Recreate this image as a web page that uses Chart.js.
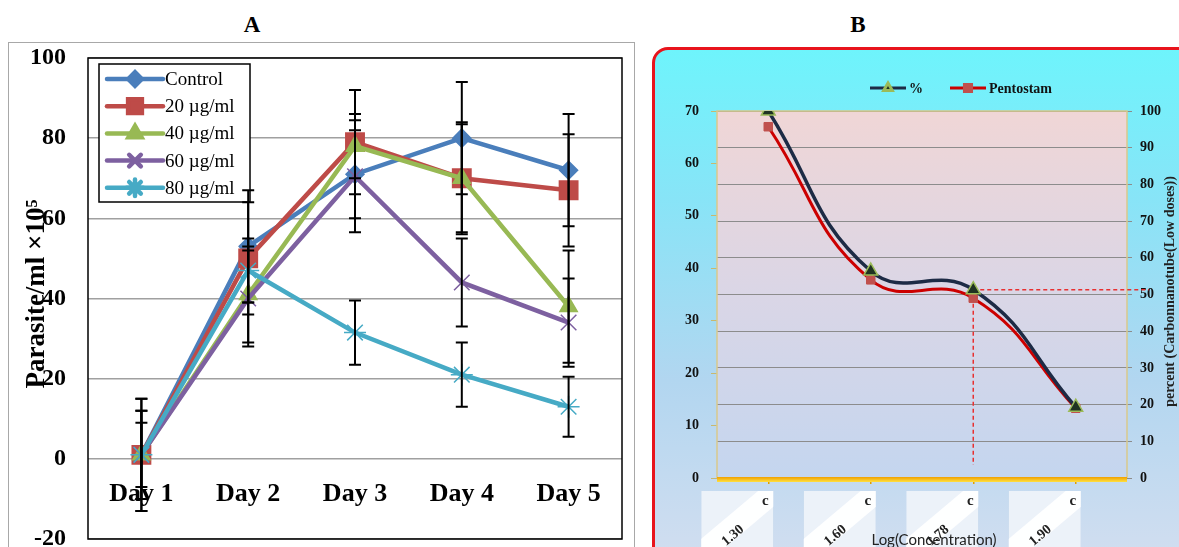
<!DOCTYPE html>
<html>
<head>
<meta charset="utf-8">
<script src="https://cdn.jsdelivr.net/npm/chart.js@4.4.1/dist/chart.umd.min.js"></script>
<style>
  body { margin: 0; width: 1179px; height: 547px; overflow: hidden; background: #fff; position: relative; }
  .ttl { position: absolute; top: 12px; width: 40px; text-align: center; font: bold 23px "Liberation Serif", serif; }
  #boxA { position: absolute; left: 8px; top: 42px; width: 627px; height: 540px; border: 1.5px solid #a8a8a8; box-sizing: border-box; }
  #wrapA { position: absolute; left: 0; top: 0; width: 645px; height: 560px; }
  #boxB { position: absolute; left: 652px; top: 47px; width: 560px; height: 540px; border: 3px solid #e8141c; border-radius: 16px;
          background: linear-gradient(180deg, #6ef4fc 0%, #88e4f7 28%, #b2d6f0 62%, #d6dff0 100%); box-sizing: border-box; }
  #wrapB { position: absolute; left: 652px; top: 47px; width: 527px; height: 500px; }
</style>
</head>
<body>
<div class="ttl" style="left:232px">A</div>
<div class="ttl" style="left:838px">B</div>
<div id="boxA"></div>
<div id="wrapA"><canvas id="chartA"></canvas></div>
<div id="boxB"></div>
<div id="wrapB"><canvas id="chartB"></canvas></div>

<script>
// ---- panel A data ----
const days = ['Day 1', 'Day 2', 'Day 3', 'Day 4', 'Day 5'];
const control = [1, 53, 71, 80, 72];
const ug20 = [1, 50, 79, 70, 67];
const ug40 = [1, 41, 78, 70, 38];
const ug60 = [1, 40, 70.5, 44, 34];
const ug80 = [1, 47, 31.5, 21, 13];
const errControl = [14, 14, 11, 14, 14];
const err20 = [11, 14, 13, 14, 14];
const err40 = [8, 12, 8, 13.5, 14];
const err60 = [11, 12, 14, 11, 11];
const err80 = [14, 8, 8, 8, 7.5];
const yTicksA = [-20, 0, 20, 40, 60, 80, 100];

// ---- panel B data ----
const logConc = ['1.30', '1.60', '1.78', '1.90'];
const percent = [100, 56.4, 51.3, 19.3];
const pentostam = [67, 37.8, 34.3, 13.3];
const leftTicksB = [0, 10, 20, 30, 40, 50, 60, 70];
const rightTicksB = [0, 10, 20, 30, 40, 50, 60, 70, 80, 90, 100];

const serif = '"Liberation Serif", "Times New Roman", serif';

function marker(ctx, style, r, x, y) {
    if (Chart.helpers && Chart.helpers.drawPoint) {
        Chart.helpers.drawPoint(ctx, { pointStyle: style, radius: r, rotation: 0, borderWidth: 1.5 }, x, y);
    } else {
        ctx.beginPath(); ctx.arc(x, y, r * 0.7, 0, Math.PI * 2); ctx.fill(); ctx.stroke();
    }
}

// error bars (drawn from the errors arrays)
const errorBars = {
    id: 'errorBars',
    afterDatasetsDraw(chart) {
        const ctx = chart.ctx, ys = chart.scales.y;
        ctx.save();
        ctx.strokeStyle = '#000';
        ctx.lineWidth = 2;
        chart.data.datasets.forEach((ds, i) => {
            chart.getDatasetMeta(i).data.forEach((pt, j) => {
                const t = ys.getPixelForValue(ds.data[j] + ds.errors[j]);
                const b = ys.getPixelForValue(ds.data[j] - ds.errors[j]);
                ctx.beginPath();
                ctx.moveTo(pt.x, t); ctx.lineTo(pt.x, b);
                ctx.moveTo(pt.x - 6, t); ctx.lineTo(pt.x + 6, t);
                ctx.moveTo(pt.x - 6, b); ctx.lineTo(pt.x + 6, b);
                ctx.stroke();
            });
        });
        ctx.restore();
    }
};

const frameA = {
    id: 'frameA',
    beforeDatasetsDraw(chart) {
        const { ctx, chartArea: a } = chart;
        ctx.save();
        ctx.strokeStyle = '#000';
        ctx.lineWidth = 1.5;
        ctx.strokeRect(a.left, a.top, a.right - a.left, a.bottom - a.top);
        ctx.restore();
    },
    afterDatasetsDraw(chart) {
        const { ctx, chartArea: a } = chart;
        ctx.save();
        // legend box
        const lx = a.left + 11, ly = a.top + 6;
        ctx.fillStyle = '#fff';
        ctx.fillRect(lx, ly, 151, 138);
        ctx.strokeStyle = '#000';
        ctx.lineWidth = 1.5;
        ctx.strokeRect(lx, ly, 151, 138);
        ctx.font = '19px ' + serif;
        ctx.textBaseline = 'middle';
        chart.data.datasets.forEach((ds, i) => {
            const yy = ly + 15 + i * 27.2;
            ctx.strokeStyle = ds.borderColor;
            ctx.lineWidth = 4.5;
            ctx.lineCap = 'round';
            ctx.beginPath(); ctx.moveTo(lx + 8, yy); ctx.lineTo(lx + 64, yy); ctx.stroke();
            ctx.fillStyle = ds.pointBackgroundColor;
            ctx.strokeStyle = ds.pointBorderColor;
            marker(ctx, ds.pointStyle, ds.pointRadius * 0.75, lx + 36, yy);
            ctx.fillStyle = '#000';
            ctx.fillText(ds.label, lx + 66, yy + 1);
        });
        // y axis title
        ctx.translate(37, 294);
        ctx.rotate(-Math.PI / 2);
        ctx.textAlign = 'center';
        ctx.font = 'bold 27px ' + serif;
        ctx.fillText('Parasite/ml ×10\u2075', 0, 0);
        ctx.restore();
    }
};

function dsA(label, data, errors, color, style, r, order) {
    return {
        label, data, errors, order,
        borderColor: color, backgroundColor: color,
        pointBackgroundColor: color, pointBorderColor: color,
        pointStyle: style, pointRadius: r, pointBorderWidth: 1.5,
        borderWidth: 4.5, tension: 0
    };
}

new Chart(document.getElementById('chartA'), {
    type: 'line',
    data: {
        labels: days,
        datasets: [
            dsA('Control', control, errControl, '#4a7ebb', 'rectRot', 9, 5),
            dsA('20 µg/ml', ug20, err20, '#be4b48', 'rect', 13, 4),
            dsA('40 µg/ml', ug40, err40, '#98b954', 'triangle', 10, 3),
            dsA('60 µg/ml', ug60, err60, '#7d60a0', 'crossRot', 11, 2),
            dsA('80 µg/ml', ug80, err80, '#46aac5', 'star', 11, 1)
        ]
    },
    options: {
        responsive: true,
        maintainAspectRatio: false,
        animation: false,
        layout: { padding: { top: 58, bottom: 21, right: 23, left: 0 } },
        scales: {
            x: {
                position: { y: 0 },
                offset: true,
                afterFit: (axis) => { axis.height = 0; axis.paddingLeft = 0; axis.paddingRight = 0; },
                grid: { display: false, drawTicks: false },
                border: { display: false },
                ticks: { color: '#000', padding: 20, font: { family: serif, size: 26, weight: 'bold' } }
            },
            y: {
                min: -20, max: 100,
                afterFit: (axis) => { axis.width = 88; axis.paddingTop = 0; axis.paddingBottom = 0; },
                afterBuildTicks: (axis) => { axis.ticks = yTicksA.map(v => ({ value: v })); },
                grid: { color: '#a0a0a0', lineWidth: 1.5, drawTicks: false },
                border: { display: false },
                ticks: { color: '#000', padding: 22, font: { family: serif, size: 24, weight: 'bold' } }
            }
        },
        plugins: { legend: { display: false }, tooltip: { enabled: false } }
    },
    plugins: [frameA, errorBars]
});

// ---- panel B ----
const plotB = {
    id: 'plotB',
    beforeDraw(chart) {
        const { ctx, chartArea: a } = chart;
        const g = ctx.createLinearGradient(0, a.top, 0, a.bottom);
        g.addColorStop(0, '#f0d6d6');
        g.addColorStop(0.5, '#dad6e6');
        g.addColorStop(1, '#c4d6ef');
        ctx.save();
        ctx.fillStyle = g;
        ctx.fillRect(a.left, a.top, a.right - a.left, a.bottom - a.top);
        ctx.restore();
    },
    beforeDatasetsDraw(chart) {
        const { ctx, chartArea: a, scales } = chart;
        ctx.save();
        ctx.strokeStyle = '#d9c98c';
        ctx.lineWidth = 1.5;
        ctx.beginPath();
        ctx.moveTo(a.left, a.bottom); ctx.lineTo(a.left, a.top); ctx.lineTo(a.right, a.top); ctx.lineTo(a.right, a.bottom);
        ctx.stroke();
        const g = ctx.createLinearGradient(0, a.bottom - 1, 0, a.bottom + 4);
        g.addColorStop(0, '#f0a000');
        g.addColorStop(1, '#ffe040');
        ctx.fillStyle = g;
        ctx.fillRect(a.left, a.bottom - 1, a.right - a.left, 5);
        // dashed guide at the 50 % point
        const px = scales.x.getPixelForValue(2);
        const py = scales.yR.getPixelForValue(percent[2]);
        ctx.strokeStyle = '#e83030';
        ctx.lineWidth = 1.5;
        ctx.setLineDash([4, 3]);
        ctx.beginPath();
        ctx.moveTo(px, py); ctx.lineTo(a.right + 22, py);
        ctx.moveTo(px, py); ctx.lineTo(px, a.bottom - 13);
        ctx.stroke();
        ctx.restore();
    },
    afterDraw(chart) {
        const { ctx, chartArea: a, scales } = chart;
        ctx.save();
        // legend
        const ly = a.top - 23;
        ctx.font = 'bold 14px ' + serif;
        ctx.textBaseline = 'middle';
        const items = [[0, a.left + 153, '%'], [1, a.left + 233, 'Pentostam']];
        items.forEach(([i, x, txt]) => {
            const ds = chart.data.datasets[i];
            ctx.strokeStyle = ds.borderColor;
            ctx.lineWidth = 3;
            ctx.beginPath(); ctx.moveTo(x, ly); ctx.lineTo(x + 36, ly); ctx.stroke();
            ctx.fillStyle = ds.pointBackgroundColor;
            ctx.strokeStyle = ds.pointBorderColor;
            marker(ctx, ds.pointStyle, 5, x + 18, ly);
            ctx.fillStyle = '#111';
            ctx.fillText(txt, x + 39, ly + 1);
        });
        // category label boxes
        logConc.forEach((lab, i) => {
            const px = scales.x.getPixelForTick(i);
            const bx = px - 67, by = a.bottom + 13, bw = 72, bh = 56;
            ctx.save();
            ctx.beginPath(); ctx.rect(bx, by, bw, bh); ctx.clip();
            ctx.fillStyle = 'rgba(240,244,250,0.9)';
            ctx.fillRect(bx, by, bw, bh);
            ctx.translate(bx + bw / 2, by + bh / 2);
            ctx.rotate(-0.7);
            ctx.fillStyle = 'rgba(255,255,255,0.95)';
            ctx.fillRect(-60, -8, 120, 22);
            ctx.fillStyle = '#222';
            ctx.font = 'bold 14px ' + serif;
            ctx.textAlign = 'center';
            ctx.textBaseline = 'middle';
            ctx.fillText(lab, -14, 10);
            ctx.restore();
            ctx.fillStyle = '#222';
            ctx.font = 'bold 15px ' + serif;
            ctx.textAlign = 'center';
            ctx.textBaseline = 'middle';
            ctx.fillText('c', px - 3, by + 10);
        });
        // x title
        ctx.fillStyle = '#222';
        ctx.font = '15px Lato, "Open Sans", sans-serif';
        ctx.textAlign = 'center';
        ctx.textBaseline = 'middle';
        ctx.fillText('Log(Concentration)', (a.left + a.right) / 2 + 12, a.bottom + 62);
        // right title
        ctx.translate(a.right + 43, (a.top + a.bottom) / 2 - 3);
        ctx.rotate(-Math.PI / 2);
        ctx.font = 'bold 14px ' + serif;
        ctx.fillText('percent (Carbonnanotube(Low doses))', 0, 0);
        ctx.restore();
    }
};

new Chart(document.getElementById('chartB'), {
    type: 'line',
    data: {
        labels: logConc,
        datasets: [
            {
                label: '%', data: percent, yAxisID: 'yR', order: 1,
                borderColor: '#1d2b45', backgroundColor: '#1d2b45', borderWidth: 3.5,
                pointStyle: 'triangle', pointRadius: 8, pointBackgroundColor: '#1f3322', pointBorderColor: '#9bbb59', pointBorderWidth: 1.5,
                tension: 0.45
            },
            {
                label: 'Pentostam', data: pentostam, yAxisID: 'y', order: 2,
                borderColor: '#cc0000', backgroundColor: '#cc0000', borderWidth: 3,
                pointStyle: 'rect', pointRadius: 6, pointBackgroundColor: '#c0504d', pointBorderColor: '#c0504d', pointBorderWidth: 1,
                tension: 0.45
            }
        ]
    },
    options: {
        responsive: true,
        maintainAspectRatio: false,
        animation: false,
        layout: { padding: { top: 64, bottom: 0, left: 0, right: 0 } },
        scales: {
            x: {
                offset: true,
                afterFit: (axis) => { axis.height = 69; },
                grid: { display: true, drawOnChartArea: false, offset: false, tickLength: 6, color: '#e0a000', lineWidth: 1.5 },
                border: { display: false },
                ticks: { display: false }
            },
            y: {
                position: 'left',
                min: 0, max: 70,
                afterFit: (axis) => { axis.width = 65; },
                afterBuildTicks: (axis) => { axis.ticks = leftTicksB.map(v => ({ value: v })); },
                grid: { drawOnChartArea: false, tickLength: 6, color: '#c8b870' },
                border: { display: false },
                ticks: { color: '#111', padding: 12, font: { family: serif, size: 14, weight: 'bold' } }
            },
            yR: {
                position: 'right',
                min: 0, max: 100,
                afterFit: (axis) => { axis.width = 52; },
                afterBuildTicks: (axis) => { axis.ticks = rightTicksB.map(v => ({ value: v })); },
                grid: { color: '#8c8c8c', lineWidth: 1, tickLength: 5 },
                border: { display: false },
                ticks: { color: '#111', padding: 8, font: { family: serif, size: 14, weight: 'bold' } }
            }
        },
        plugins: { legend: { display: false }, tooltip: { enabled: false } }
    },
    plugins: [plotB]
});
</script>
</body>
</html>
